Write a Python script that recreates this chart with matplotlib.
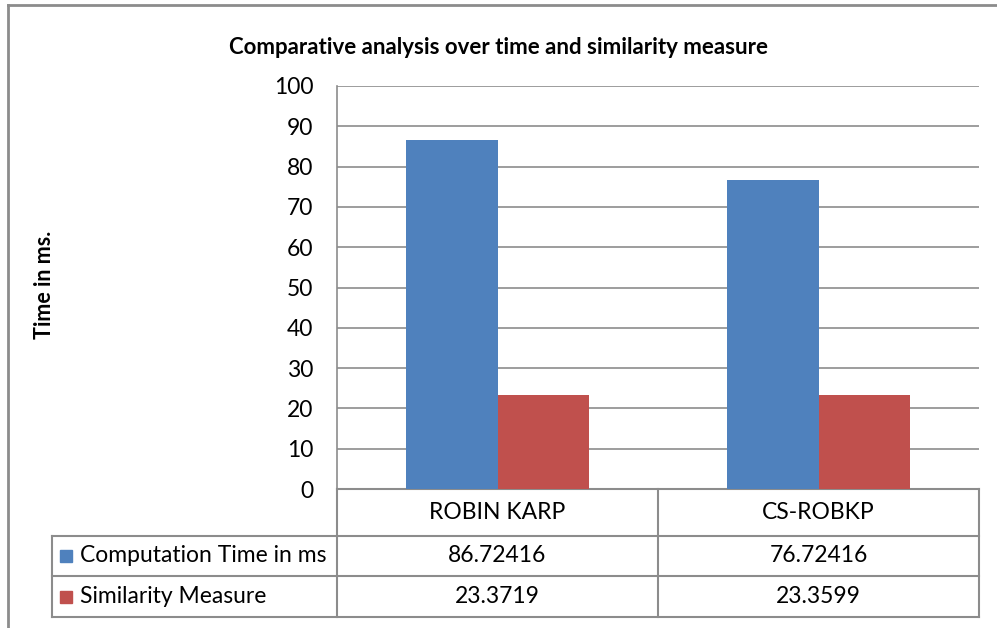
import matplotlib.pyplot as plt
from matplotlib.patches import Rectangle
import numpy as np

plt.rcParams['font.family'] = ['Lato', 'DejaVu Sans']

title = "Comparative analysis over time and similarity measure"
ylabel = "Time in ms."
categories = ["ROBIN KARP", "CS-ROBKP"]
series_names = ["Computation Time in ms", "Similarity Measure"]
computation_time = [86.72416, 76.72416]
similarity = [23.3719, 23.3599]
value_labels = [["86.72416", "76.72416"], ["23.3719", "23.3599"]]
colors = ["#4F81BD", "#C0504D"]
yticks = list(range(0, 101, 10))

W, H = 997, 628
fig = plt.figure(figsize=(W / 100, H / 100), dpi=100)

# plot area in pixel coords
px_l, px_r, px_t, px_b = 337, 979, 86, 489
ax = fig.add_axes([px_l / W, 1 - px_b / H, (px_r - px_l) / W, (px_b - px_t) / H])

grid_c = "#8C8C8C"
fs = 16.5
x = np.arange(len(categories))
bw = 0.286
ax.bar(x - bw / 2, computation_time, bw, color=colors[0], zorder=3)
ax.bar(x + bw / 2, similarity, bw, color=colors[1], zorder=3)

ax.set_xlim(-0.5, len(categories) - 0.5)
ax.set_ylim(0, 100)
ax.set_yticks(yticks)
ax.set_yticklabels([str(t) for t in yticks], fontsize=fs)
ax.yaxis.grid(True, color=grid_c, linewidth=1.2, zorder=0)
ax.set_xticks([])
ax.tick_params(axis='y', length=0, pad=17)
for s in ["top", "right", "bottom"]:
    ax.spines[s].set_visible(False)
ax.spines["left"].set_color(grid_c)
ax.spines["left"].set_linewidth(1.2)

ax.set_ylabel(ylabel, fontsize=15.5, fontweight="bold", labelpad=0)
ax.yaxis.set_label_coords((55 - px_l) / (px_r - px_l), (px_b - 285) / (px_b - px_t))

fig.text(0.5, 1 - 47 / H, title, ha="center", va="center", fontsize=16, fontweight="bold")

# data table drawn in pixel-based axes coordinates
def fx(p):
    return (p - px_l) / (px_r - px_l)

def fy(p):
    return (px_b - p) / (px_b - px_t)

tr = ax.transAxes
rows_y = [489, 536, 576, 617]
tbl_left = 52
col_x = [px_l, px_l + (px_r - px_l) / 2, px_r]
lkw = dict(transform=tr, color=grid_c, linewidth=1.5, clip_on=False)

# horizontal lines
ax.plot([fx(px_l), fx(px_r)], [fy(rows_y[0])] * 2, **lkw)
for yy in rows_y[1:]:
    ax.plot([fx(tbl_left), fx(px_r)], [fy(yy)] * 2, **lkw)
# vertical lines
ax.plot([fx(tbl_left)] * 2, [fy(rows_y[1]), fy(rows_y[3])], **lkw)
for xx in col_x:
    ax.plot([fx(xx)] * 2, [fy(rows_y[0]), fy(rows_y[3])], **lkw)

# category labels
for i, cat in enumerate(categories):
    cx = (col_x[i] + col_x[i + 1]) / 2
    ax.text(fx(cx), fy((rows_y[0] + rows_y[1]) / 2), cat, transform=tr,
            ha="center", va="center", fontsize=fs)

# series rows
for r, name in enumerate(series_names):
    cy = (rows_y[r + 1] + rows_y[r + 2]) / 2
    sq = 12
    ax.add_patch(Rectangle((fx(60), fy(cy + sq / 2)), fx(60 + sq) - fx(60),
                           fy(cy - sq / 2) - fy(cy + sq / 2), transform=tr,
                           color=colors[r], clip_on=False))
    ax.text(fx(80), fy(cy), name, transform=tr, ha="left", va="center", fontsize=fs)
    for i in range(len(categories)):
        cx = (col_x[i] + col_x[i + 1]) / 2
        ax.text(fx(cx), fy(cy), value_labels[r][i], transform=tr,
                ha="center", va="center", fontsize=fs)

# outer frame (left and top edges visible)
fig.add_artist(plt.Line2D([8 / W, 8 / W], [0, 1 - 5 / H], color="#8C8C8C", linewidth=2))
fig.add_artist(plt.Line2D([8 / W, 1], [1 - 5 / H, 1 - 5 / H], color="#8C8C8C", linewidth=2))

fig.savefig("out.png", dpi=100)
